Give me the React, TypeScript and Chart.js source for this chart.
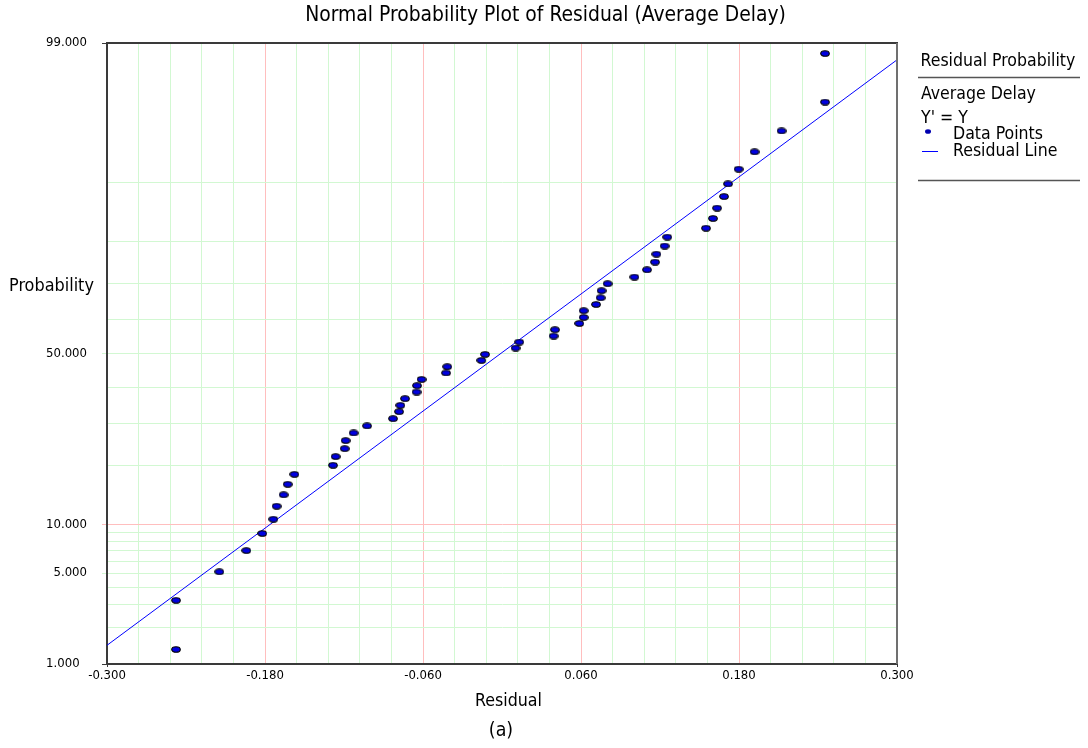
import React, { useEffect, useRef } from 'react';
import { Chart, registerables } from 'chart.js';

Chart.register(...registerables);

// ---------- Text ----------
const TITLE = 'Normal Probability Plot of Residual (Average Delay)';
const X_TITLE = 'Residual';
const Y_TITLE = 'Probability';
const CAPTION = '(a)';
const LEGEND_TITLE = 'Residual Probability';
const LEGEND_SERIES = 'Average Delay';
const LEGEND_FORMULA = "Y' = Y";
const LEGEND_POINTS = 'Data Points';
const LEGEND_LINE = 'Residual Line';

// ---------- Data ----------
const residuals = [
  -0.2476, -0.2476, -0.2147, -0.1942, -0.1821, -0.1737, -0.1712, -0.1659, -0.1628, -0.1577,
  -0.1284, -0.1264, -0.1195, -0.1188, -0.1127, -0.1025, -0.0828, -0.0782, -0.0772, -0.0737,
  -0.0649, -0.0646, -0.0611, -0.0425, -0.0416, -0.0157, -0.0129, 0.0103, 0.0131, 0.0392,
  0.0402, 0.0587, 0.062, 0.062, 0.0714, 0.0749, 0.0756, 0.0802, 0.1005, 0.1101,
  0.1162, 0.1172, 0.1235, 0.1255, 0.1549, 0.1602, 0.1633, 0.1686, 0.1716, 0.1797,
  0.1918, 0.2123, 0.2453, 0.2453,
];
// probability in percent
const probabilities = [
  1.33, 3.22, 5.1, 6.99, 8.88, 10.72, 12.63, 14.49, 16.36, 18.26,
  20.12, 22.0, 23.8, 25.71, 27.58, 29.37, 31.27, 33.16, 34.88, 36.76,
  38.65, 40.48, 42.3, 44.2, 46.06, 47.94, 49.73, 51.64, 53.43, 55.21,
  57.07, 58.91, 60.65, 62.57, 64.34, 66.19, 68.09, 69.94, 71.65, 73.47,
  75.33, 77.17, 78.96, 80.84, 82.61, 84.41, 86.2, 88.02, 89.81, 91.64,
  93.46, 95.23, 97.02, 98.77,
];
// fitted residual line end points
const lineResiduals = [-0.3, 0.3];
const lineProbabilities = [1.44, 98.61];

// ---------- Axes ----------
const xMin = -0.3;
const xMax = 0.3;
const xGridStep = 0.024;
const xLabelEvery = 5;
const yGridProbs = [1, 2, 3, 4, 5, 6, 7, 8, 9, 10, 20, 30, 40, 50, 60, 70, 80, 90, 99];
const yLabelProbs = [1, 5, 10, 50, 99];
const yRedProbs = [10];

// ---------- Style ----------
const FONT = '"DejaVu Sans Condensed", "Noto Sans", "DejaVu Sans", sans-serif';
const GREEN = '#d2f8d2';
const RED = '#ffbebe';
const AXIS = '#3a3a3a';

function probit(p: number): number {
  const a = [-3.969683028665376e1, 2.209460984245205e2, -2.759285104469687e2, 1.38357751867269e2, -3.066479806614716e1, 2.506628277459239];
  const b = [-5.447609879822406e1, 1.615858368580409e2, -1.556989798598866e2, 6.680131188771972e1, -1.328068155288572e1];
  const c = [-7.784894002430293e-3, -3.223964580411365e-1, -2.400758277161838, -2.549671348254946, 4.374664141464968, 2.938163982698783];
  const d = [7.784695709041462e-3, 3.224671290700398e-1, 2.445134137142996, 3.754408661907416];
  const pl = 0.02425;
  if (p < pl) {
    const q = Math.sqrt(-2 * Math.log(p));
    return (((((c[0] * q + c[1]) * q + c[2]) * q + c[3]) * q + c[4]) * q + c[5]) / ((((d[0] * q + d[1]) * q + d[2]) * q + d[3]) * q + 1);
  }
  if (p <= 1 - pl) {
    const q = p - 0.5;
    const r = q * q;
    return ((((((a[0] * r + a[1]) * r + a[2]) * r + a[3]) * r + a[4]) * r + a[5]) * q) / (((((b[0] * r + b[1]) * r + b[2]) * r + b[3]) * r + b[4]) * r + 1);
  }
  const q = Math.sqrt(-2 * Math.log(1 - p));
  return -(((((c[0] * q + c[1]) * q + c[2]) * q + c[3]) * q + c[4]) * q + c[5]) / ((((d[0] * q + d[1]) * q + d[2]) * q + d[3]) * q + 1);
}

const xTickCount = Math.round((xMax - xMin) / xGridStep);
const xTickValues = Array.from({ length: xTickCount + 1 }, (_, i) => +(xMin + i * xGridStep).toFixed(4));

// font size that makes `text` span `width` pixels
function fitSize(text: string, width: number): number {
  const g = document.createElement('canvas').getContext('2d')!;
  g.font = `100px ${FONT}`;
  return (100 * width) / g.measureText(text).width;
}

function makeMarker(w: number, h: number): HTMLCanvasElement {
  const cv = document.createElement('canvas');
  cv.width = w;
  cv.height = h;
  const g = cv.getContext('2d')!;
  g.beginPath();
  g.ellipse(w / 2, h / 2, w / 2 - 0.7, h / 2 - 0.7, 0, 0, Math.PI * 2);
  g.fillStyle = '#0000e0';
  g.fill();
  g.lineWidth = 1.1;
  g.strokeStyle = '#000000';
  g.stroke();
  return cv;
}

export default function App() {
  const ref = useRef<HTMLCanvasElement>(null);
  useEffect(() => {
    const sTitle = fitSize(TITLE, 481);
    const sAxis = fitSize(Y_TITLE, 85);
    const sXTitle = fitSize(X_TITLE, 67);
    const sLegend = fitSize(LEGEND_TITLE, 155);
    const sTick = fitSize('-0.300', 37.7);

    const decorPlugin = {
      id: 'decor',
      afterDraw(chart: any) {
        const { ctx, chartArea: a } = chart;
        ctx.save();
        ctx.lineWidth = 2;
        ctx.strokeStyle = AXIS;
        ctx.beginPath();
        ctx.moveTo(a.left - 1, a.top);
        ctx.lineTo(a.right + 1, a.top);
        ctx.stroke();
        ctx.strokeStyle = '#707070';
        ctx.beginPath();
        ctx.moveTo(a.right, a.top);
        ctx.lineTo(a.right, a.bottom);
        ctx.stroke();

        ctx.fillStyle = '#000';
        ctx.textBaseline = 'middle';
        ctx.textAlign = 'center';
        ctx.font = `${sTitle}px ${FONT}`;
        ctx.fillText(TITLE, 545.5, 16);
        ctx.font = `${sXTitle}px ${FONT}`;
        ctx.fillText(X_TITLE, 508.5, 701);
        ctx.font = `${sXTitle * 1.1}px ${FONT}`;
        ctx.fillText(CAPTION, 501, 731);
        ctx.textAlign = 'left';
        ctx.font = `${sAxis}px ${FONT}`;
        ctx.fillText(Y_TITLE, 9, 286);

        // legend
        const lx0 = 918;
        const lx1 = 1080;
        ctx.font = `${sLegend}px ${FONT}`;
        ctx.fillText(LEGEND_TITLE, 920.5, 61);
        ctx.strokeStyle = '#555';
        ctx.lineWidth = 1.5;
        ctx.beginPath();
        ctx.moveTo(lx0, 77.5);
        ctx.lineTo(lx1, 77.5);
        ctx.stroke();
        ctx.fillText(LEGEND_SERIES, 921, 94);
        ctx.fillText(LEGEND_FORMULA, 921, 118);
        const ptDs = chart.data.datasets[0];
        const lnDs = chart.data.datasets[1];
        ctx.beginPath();
        ctx.ellipse(928, 131.5, 3, 2.3, 0, 0, Math.PI * 2);
        ctx.fillStyle = '#0000b0';
        ctx.fill();
        ctx.fillStyle = '#000';
        ctx.fillText(ptDs.label, 953, 134.5);
        ctx.strokeStyle = lnDs.borderColor;
        ctx.lineWidth = 1;
        ctx.beginPath();
        ctx.moveTo(922, 151.5);
        ctx.lineTo(938, 151.5);
        ctx.stroke();
        ctx.fillText(lnDs.label, 953, 151.5);
        ctx.strokeStyle = '#555';
        ctx.lineWidth = 1.5;
        ctx.beginPath();
        ctx.moveTo(lx0, 180.5);
        ctx.lineTo(lx1, 180.5);
        ctx.stroke();
        ctx.restore();
      },
    };

    const marker = makeMarker(10, 7);
    const points = residuals.map((r, i) => ({ x: r, y: probit(probabilities[i] / 100) }));
    const line = lineResiduals.map((r, i) => ({ x: r, y: probit(lineProbabilities[i] / 100) }));
    const lastX = xTickValues.length - 1;
    const lastY = yGridProbs.length - 1;

    const chart = new Chart(ref.current!, {
      type: 'scatter',
      data: {
        datasets: [
          {
            label: LEGEND_POINTS,
            data: points,
            pointStyle: marker as any,
            pointRadius: 4,
            showLine: false,
            backgroundColor: '#0000e0',
            borderColor: '#000',
            order: 1,
          },
          {
            type: 'line',
            label: LEGEND_LINE,
            data: line,
            borderColor: '#0000ff',
            borderWidth: 1,
            pointRadius: 0,
            fill: false,
            order: 2,
          } as any,
        ],
      },
      options: {
        responsive: false,
        animation: false,
        devicePixelRatio: 1,
        layout: { padding: { top: 43, right: 191, left: 0, bottom: 0 } },
        plugins: {
          legend: { display: false },
          title: { display: false },
          tooltip: { enabled: false },
        },
        scales: {
          x: {
            type: 'linear',
            min: xMin,
            max: xMax,
            afterFit: (s: any) => {
              s.height = 84;
            },
            afterBuildTicks: (s: any) => {
              s.ticks = xTickValues.map((v) => ({ value: v }));
            },
            ticks: {
              autoSkip: false,
              maxRotation: 0,
              padding: 1,
              color: '#000',
              font: { family: FONT, size: sTick },
              callback: (v: any, i: number) => (i % xLabelEvery === 0 ? Number(v).toFixed(3) : ''),
            },
            grid: {
              color: (c: any) => (c.index === 0 || c.index === lastX ? 'rgba(0,0,0,0)' : c.index % xLabelEvery === 0 ? RED : GREEN),
              tickColor: (c: any) => (c.index === 0 || c.index === lastX ? AXIS : 'rgba(0,0,0,0)'),
              tickLength: 3,
              lineWidth: 1,
            },
            border: { display: true, color: AXIS, width: 2 },
          },
          y: {
            type: 'linear',
            min: probit(yGridProbs[0] / 100),
            max: probit(yGridProbs[lastY] / 100),
            afterFit: (s: any) => {
              s.width = 107;
            },
            afterBuildTicks: (s: any) => {
              s.ticks = yGridProbs.map((p) => ({ value: probit(p / 100) }));
            },
            ticks: {
              autoSkip: false,
              padding: 15,
              color: '#000',
              font: { family: FONT, size: sTick },
              callback: (_v: any, i: number) => {
                const p = yGridProbs[i];
                if (!yLabelProbs.includes(p)) return '';
                return i === 0 ? p.toFixed(3) + '  ' : p.toFixed(3);
              },
            },
            grid: {
              color: (c: any) => {
                const p = yGridProbs[c.index];
                if (c.index === 0 || c.index === lastY) return 'rgba(0,0,0,0)';
                return yRedProbs.includes(p) ? RED : GREEN;
              },
              tickColor: (c: any) => {
                const p = yGridProbs[c.index];
                if (c.index === 0 || c.index === lastY) return AXIS;
                if (!yLabelProbs.includes(p)) return 'rgba(0,0,0,0)';
                return yRedProbs.includes(p) ? RED : GREEN;
              },
              tickLength: 5,
              lineWidth: 1,
            },
            border: { display: true, color: AXIS, width: 2 },
          },
        },
      },
      plugins: [decorPlugin],
    });
    return () => chart.destroy();
  }, []);

  return (
    <div style={{ position: 'fixed', left: 0, top: 0, width: 1088, height: 748, background: '#fff' }}>
      <canvas ref={ref} width={1088} height={748} style={{ display: 'block' }} />
    </div>
  );
}
